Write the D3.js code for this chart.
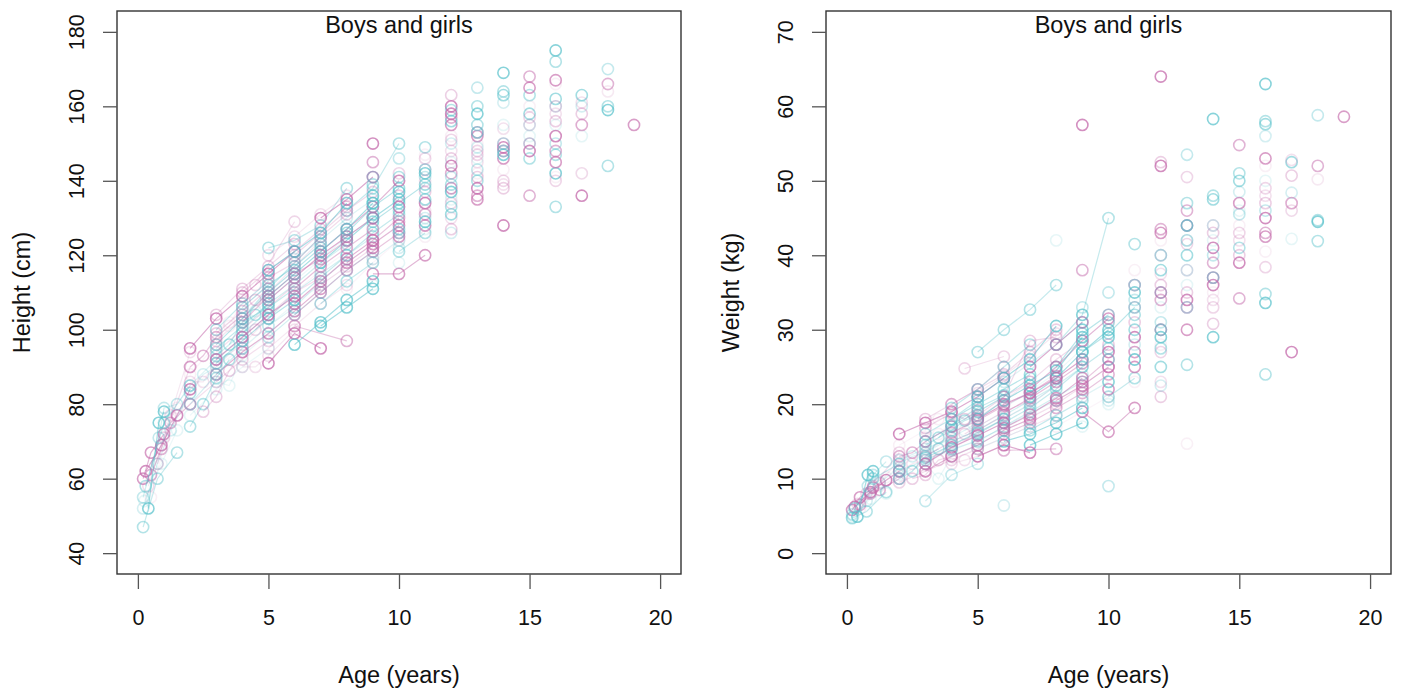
<!doctype html>
<html lang="en">
    <head>
        <meta charset="UTF-8" />
        <title>Boys and girls</title>
        <script src="https://d3js.org/d3.v7.min.js"></script>
        <style>
            body {
                margin: 0;
                background: #fff;
            }
            svg {
                display: block;
                font-family: "Liberation Sans", Arial, sans-serif;
            }
            .tick line {
                stroke: #555;
            }
        </style>
    </head>
    <body>
        <svg id="chart" width="1407" height="690"></svg>
        <script>
            // each visit: [age (years), height (cm), weight (kg)]
            // infants followed over the first two years
            const girlsInfant = [
                [[0.3, 62, 6.2], [0.9, 69, 8.2], [1.5, 77, 9.8], [2, 84, 11]],
                [[0.5, 61, 6.5], [0.9, 68, 8], [1.25, 75, 8.5], [2, 80, 10]],
                [[0.2, 60, 5.8], [0.5, 67, 7.5], [1, 72, 8.8]],
                [[0.5, 55, 6], [1.25, 76, 9], [1.5, 79, 10.2]],
                [[0.75, 64, 8], [1, 71, 9], [2, 90, 13.5]],
                [[0.4, 58, 6.6], [1.25, 77, 9.4], [2, 94, 12.6]],
            ];
            const boysInfant = [
                [[0.2, 52, 4.8], [0.75, 64, 7], [1.25, 73, 9.5], [2, 83, 11.5]],
                [[0.25, 54, 5], [0.9, 64, 7.3], [1.5, 73, 8]],
                [[0.2, 55, 5.2], [0.8, 71, 9], [1, 79, 10.5], [1.5, 80, 12.3]],
                [[0.2, 47, 4.7], [0.75, 60, 5.6], [1.5, 67, 8.2]],
                [[0.4, 52, 4.9], [0.8, 75, 10.5], [1, 78, 11]],
                [[0.3, 58, 6], [1, 75, 10], [2, 85, 12]],
            ];
            // children seen at repeated visits
            const girlsChild = [
                [[3, 104, 18], [4, 111, 20], [5, 117, 22], [6, 123, 25]],
                [[2, 95, 16], [3, 103, 17.5], [4, 109, 19], [5, 115, 21], [6, 121, 23.5]],
                [[2, 90, 13], [2.5, 93, 13.5], [3, 98, 15], [4, 104, 17]],
                [[3, 88, 11], [4, 94, 13], [5, 99, 14.5], [6, 105, 16.5], [7, 111, 18]],
                [[4, 97, 14], [5, 103, 16], [6, 110, 18], [7, 116, 20], [8, 121, 22.5]],
                [[4.5, 112, 24.8], [6, 129, 26.4]],
                [[5, 95, 14], [6, 101, 15.5], [7, 107, 17], [8, 112, 18.5]],
                [[6, 120, 21], [7, 126, 23], [8, 132, 26], [9, 137, 28.5]],
                [[5, 91, 13], [6, 99, 14.5], [7, 95, 13.5]],
                [[6, 101, 13.8], [8, 97, 14]],
                [[9, 115, 19], [10, 115, 16.3], [11, 120, 19.5]],
                [[3, 100, 15.5], [3.5, 102, 16], [4, 106, 17.5], [5, 112, 19.5]],
                [[2, 80, 9.5], [3, 86, 11], [4, 92, 12.5], [5, 97, 14]],
                [[2, 86, 11], [2.5, 86, 12], [3, 91, 12.5], [4, 96, 14.5], [5, 103, 16]],
                [[4, 110, 20], [5, 116, 22], [6, 121, 24], [7, 127, 27], [8, 133, 30]],
                [[5, 108, 18], [6, 114, 20], [7, 120, 21.5], [8, 125, 23.5], [9, 130, 26]],
                [[6, 104, 16], [7, 110, 17.5], [8, 116, 19.5], [9, 121, 21.5], [10, 126, 24]],
                [[7, 121, 22], [8, 127, 25], [9, 133, 28.5], [10, 140, 31.5]],
                [[8, 111, 17], [9, 118, 19], [10, 124, 21]],
                [[3, 94, 13], [4, 100, 15], [5, 106, 16.5], [6, 112, 18.5]],
                [[4, 90, 12], [4.5, 90, 12.5], [5, 93, 13], [6, 100, 14.5]],
                [[2.5, 78, 10], [3, 82, 10.5], [3.5, 89, 12.5], [4, 94, 13]],
                [[7, 130, 25], [8, 135, 28], [9, 141, 31]],
                [[9, 124, 23], [10, 130, 26]],
                [[8, 118, 20.5], [9, 123, 22.5], [10, 128, 25]],
                [[2, 88, 14.5], [3, 96, 16.5], [3.5, 101, 18], [4, 108, 18.5]],
                [[4.5, 100, 16], [5, 104, 17], [6, 110, 19], [7, 114, 20.5]],
                [[3, 97, 13.5], [4, 103, 16], [5, 110, 18.2], [6, 117, 20.5], [7, 124, 23]],
                [[5, 114, 18.5], [6, 118, 21], [7, 125, 28.5], [8, 131, 29]],
                [[3, 92, 12], [4, 98, 14.2], [5, 104, 15.8], [6, 109, 17.5]],
                [[4, 102, 16.2], [5, 109, 17.8], [6, 115, 19.8], [7, 119, 21.5], [8, 124, 23.8]],
                [[6, 107, 16.8], [7, 113, 18.6], [8, 119, 20.8], [9, 124, 23.5]],
                [[2, 84, 11.8], [3, 90, 13.2], [4, 95, 14.8]],
                [[7, 112, 18.2], [8, 117, 20], [9, 122, 22.4]],
                [[5, 120, 21.5], [6, 125, 23.8], [7, 131, 26.5], [8, 136, 29.5]],
                [[3, 99, 16.8], [4, 105, 18.8], [4.5, 108, 18], [5, 111, 19.2]],
                [[6, 111, 18.8], [7, 117, 20.8], [8, 122, 23], [9, 127, 25.5]],
            ];
            const boysChild = [
                [[3, 96, 15], [4, 103, 17], [5, 110, 19], [6, 116, 21], [7, 122, 23.5]],
                [[2, 85, 12.5], [3, 92, 14], [4, 98, 15.5], [5, 104, 17.5]],
                [[3, 86, 12], [3.5, 85, 10], [4, 93, 13], [5, 99, 14.5], [6, 105, 16.5]],
                [[4, 100, 15], [5, 107, 16.5], [6, 112, 18.5], [7, 118, 20.5], [8, 123, 22.5]],
                [[5, 122, 27], [6, 124, 30], [7, 128, 32.7], [8, 138, 36]],
                [[7, 101, 14.5], [8, 106, 16], [9, 111, 17.5]],
                [[8, 132, 28], [9, 138, 32], [10, 150, 45]],
                [[4, 106, 18], [5, 112, 20], [6, 117, 22], [7, 123, 24]],
                [[2, 83, 12], [2.5, 88, 13], [3, 90, 13.5], [4, 97, 15.5]],
                [[2, 77, 10.5], [3, 84, 12], [4, 90, 14], [5, 95, 15]],
                [[5, 98, 15], [6, 104, 17], [7, 110, 19], [8, 116, 21], [9, 121, 23]],
                [[6, 108, 17.5], [7, 114, 19.5], [8, 120, 22], [9, 126, 25], [10, 131, 27.5]],
                [[7, 118, 21], [8, 124, 23.5], [9, 130, 27], [10, 135, 30]],
                [[3, 100, 16], [4, 107, 18], [5, 113, 20.5]],
                [[8, 126, 25], [9, 133, 29.5], [10, 138, 32]],
                [[9, 119, 21], [10, 124, 23]],
                [[4.5, 105, 16.5], [5, 108, 17], [6, 114, 19]],
                [[5, 103, 16], [6, 110, 18], [7, 115, 20], [8, 120, 22.5], [9, 125, 25]],
                [[2, 74, 10], [2.5, 80, 11], [3, 87, 13], [3.5, 92, 14]],
                [[6, 96, 15], [7, 102, 16], [8, 108, 17.5], [9, 113, 19.5]],
                [[10, 121, 21], [11, 126, 23.5]],
                [[9, 129, 27], [10, 134, 29.5], [11, 139, 33]],
                [[6, 119, 23], [7, 124, 25.5], [8, 130, 28], [9, 135, 31]],
                [[5, 101, 14], [6, 107, 15.5], [7, 112, 17]],
                [[3, 93, 7], [4, 99, 10.5], [5, 105, 12]],
                [[4, 103, 19.5], [5, 111, 22], [6, 118, 25], [7, 125, 28]],
                [[5, 109, 18], [6, 115, 20.5], [7, 121, 22.5], [8, 127, 24.5], [9, 134, 29]],
                [[3, 95, 14.5], [4, 101, 16.5], [4.5, 104, 17.8], [5, 107, 18.5]],
                [[3, 91, 12.8], [4, 97, 14.5], [5, 103, 16.2], [6, 108, 18]],
                [[4, 95, 13.8], [5, 101, 15.2], [6, 106, 16.8], [7, 113, 18.8], [8, 119, 20.5]],
                [[6, 113, 19.5], [7, 119, 21.8], [8, 125, 24.2], [9, 130, 27.5]],
                [[2, 80, 11], [3, 88, 12.5], [4, 95, 14]],
                [[7, 107, 16.5], [8, 113, 18.5], [9, 118, 20.5]],
                [[5, 116, 21], [6, 121, 23.5], [7, 126, 26], [8, 134, 30.5]],
                [[3.5, 96, 15.5], [4, 102, 17.2], [5, 106, 19.5], [6, 111, 21.2]],
            ];
            // single visits of older children
            const girlsOlder = [
                [9, 150, 57.5], [9, 145, 38], [9, 122, 22], [9, 119, 21],
                [10, 142, 32], [10, 140, 31], [10, 136, 28], [10, 133, 27], [10, 129, 25], [10, 125, 22],
                [11, 147, 38], [11, 143, 36], [11, 140, 33], [11, 137, 31], [11, 134, 29],
                [11, 131, 27], [11, 128, 25], [11, 125, 23], [11, 146, 36], [11, 132, 27],
                [12, 163, 52.5], [12, 160, 52], [12, 157, 43.5], [12, 155, 43], [12, 152, 42],
                [12, 151, 40], [12, 148, 37.5], [12, 146, 36], [12, 144, 35], [12, 142, 34],
                [12, 138, 30], [12, 136, 28], [12, 134, 27], [12, 130, 23], [12, 127, 21], [12, 158, 64],
                [13, 153, 46], [13, 152, 44], [13, 150, 42], [13, 148, 41.5], [13, 145, 38],
                [13, 141, 35], [13, 138, 34], [13, 136, 33], [13, 135, 30], [13, 142, 14.7], [13, 147, 50.5],
                [14, 154, 44], [14, 150, 43], [14, 149, 41], [14, 148, 39], [14, 146, 37],
                [14, 143, 35], [14, 140, 33], [14, 139, 34], [14, 138, 30.8], [14, 128, 36],
                [15, 168, 54.8], [15, 165, 47], [15, 160, 44], [15, 157, 43], [15, 155, 42],
                [15, 150, 40], [15, 148, 39], [15, 136, 34.2],
                [16, 167, 53], [16, 166, 52], [16, 160, 49], [16, 158, 48], [16, 156, 47],
                [16, 152, 45], [16, 148, 43], [16, 145, 42.5], [16, 141, 40.5], [16, 140, 38.4],
                [17, 161, 52.8], [17, 158, 50.7], [17, 155, 47], [17, 136, 27], [17, 142, 46],
                [18, 166, 52], [18, 164, 50.2],
                [19, 155, 58.6],
            ];
            const boysOlder = [
                [6, 106, 6.4], [8, 128, 42],
                [9, 141, 33], [9, 139, 32], [9, 136, 30], [9, 134, 28], [9, 131, 26], [9, 128, 24], [9, 112, 17],
                [10, 146, 35], [10, 141, 31], [10, 137, 29], [10, 132, 26], [10, 127, 23],
                [10, 122, 20.5], [10, 118, 20], [10, 126, 9],
                [11, 149, 41.5], [11, 142, 35], [11, 138, 32], [11, 135, 30], [11, 130, 28], [11, 127, 26],
                [11, 141, 34], [11, 143, 36], [11, 129, 26],
                [12, 159, 40], [12, 156, 38], [12, 150, 35], [12, 145, 33], [12, 141, 31],
                [12, 139, 30], [12, 137, 29], [12, 133, 27.5], [12, 131, 25], [12, 126, 22.5], [12, 135, 30],
                [13, 165, 53.5], [13, 160, 47], [13, 158, 44], [13, 155, 42], [13, 153, 40],
                [13, 149, 38], [13, 146, 36], [13, 143, 33], [13, 140, 25.3],
                [14, 169, 58.3], [14, 164, 48], [14, 163, 47.5], [14, 161, 44], [14, 155, 42],
                [14, 150, 40], [14, 148, 37], [14, 147, 29],
                [15, 163, 51], [15, 158, 50], [15, 155, 48.5], [15, 152, 46], [15, 150, 45.5], [15, 146, 41],
                [16, 175, 63], [16, 172, 58], [16, 162, 57.6], [16, 160, 56], [16, 155, 50],
                [16, 150, 46], [16, 147, 34.8], [16, 142, 33.6], [16, 133, 24],
                [17, 163, 52.5], [17, 160, 48.4], [17, 152, 42.2],
                [18, 170, 58.8], [18, 160, 44.7], [18, 159, 44.5], [18, 144, 41.9],
            ];

            const ageTicks = [0, 5, 10, 15, 20];
            const heightTicks = [40, 60, 80, 100, 120, 140, 160, 180];
            const weightTicks = [0, 10, 20, 30, 40, 50, 60, 70];

            // colours and per-child transparency
            const sexColor = { girl: "#c46aab", boy: "#56c1ca" };
            const alphaCycle = [0.75, 0.25, 0.5, 0.15, 0.65, 0.35, 0.1, 0.45, 0.28, 0.7, 0.2, 0.45, 0.32, 0.55];

            // interleave girls and boys so neither colour sits on top
            function interleave(g, b) {
                const out = [];
                const n = Math.max(g.length, b.length);
                for (let i = 0; i < n; i++) {
                    if (i < g.length) out.push({ sex: "girl", visits: g[i] });
                    if (i < b.length) out.push({ sex: "boy", visits: b[i] });
                }
                return out;
            }
            const children = [
                ...interleave(girlsInfant, boysInfant),
                ...interleave(girlsChild, boysChild),
                ...interleave(
                    girlsOlder.map((v) => [v]),
                    boysOlder.map((v) => [v]),
                ),
            ];
            children.forEach((c, i) => (c.alpha = alphaCycle[i % alphaCycle.length]));

            const svg = d3.select("#chart");
            const plotTop = 11,
                plotBottom = 574;

            const panels = [
                {
                    left: 117,
                    right: 681,
                    col: 1,
                    yDomain: [34.4, 185.6],
                    ticks: heightTicks,
                    ylab: "Height (cm)",
                },
                {
                    left: 826,
                    right: 1391,
                    col: 2,
                    yDomain: [-2.8, 72.8],
                    ticks: weightTicks,
                    ylab: "Weight (kg)",
                },
            ];

            panels.forEach((p) => {
                const x = d3.scaleLinear().domain([-0.8, 20.8]).range([p.left, p.right]);
                const y = d3.scaleLinear().domain(p.yDomain).range([plotBottom, plotTop]);
                const g = svg.append("g");

                const line = d3
                    .line()
                    .x((d) => x(d[0]))
                    .y((d) => y(d[p.col]));

                const kids = g
                    .append("g")
                    .selectAll("g")
                    .data(children)
                    .join("g")
                    .attr("stroke", (d) => sexColor[d.sex])
                    .attr("fill", "none");

                kids.filter((d) => d.visits.length > 1)
                    .append("path")
                    .attr("d", (d) => line(d.visits))
                    .attr("stroke-opacity", (d) => d.alpha * 0.75)
                    .attr("stroke-width", 1.2);

                kids.selectAll("circle")
                    .data((d) => d.visits.map((v) => ({ v, alpha: d.alpha })))
                    .join("circle")
                    .attr("cx", (d) => x(d.v[0]))
                    .attr("cy", (d) => y(d.v[p.col]))
                    .attr("r", 5.6)
                    .attr("stroke-opacity", (d) => d.alpha)
                    .attr("stroke-width", 1.6);

                // box
                g.append("rect")
                    .attr("x", p.left)
                    .attr("y", plotTop)
                    .attr("width", p.right - p.left)
                    .attr("height", plotBottom - plotTop)
                    .attr("fill", "none")
                    .attr("stroke", "#333")
                    .attr("stroke-width", 1.4);

                const xAxis = g
                    .append("g")
                    .attr("transform", `translate(0,${plotBottom})`)
                    .call(d3.axisBottom(x).tickValues(ageTicks).tickSize(15).tickFormat(d3.format("d")));
                xAxis.select(".domain").remove();
                xAxis.selectAll(".tick line").attr("stroke-width", 1.3);
                xAxis.selectAll("text")
                    .attr("y", 43)
                    .attr("dy", "0.35em")
                    .attr("fill", "#111")
                    .style("font-size", "21.5px");

                const yAxis = g
                    .append("g")
                    .attr("transform", `translate(${p.left},0)`)
                    .call(d3.axisLeft(y).tickValues(p.ticks).tickSize(14).tickFormat(d3.format("d")));
                yAxis.select(".domain").remove();
                yAxis.selectAll(".tick line").attr("stroke-width", 1.3);
                yAxis.selectAll("text")
                    .attr("x", 0)
                    .attr("y", -41)
                    .attr("dy", "0.35em")
                    .attr("transform", "rotate(-90)")
                    .attr("text-anchor", "middle")
                    .attr("fill", "#111")
                    .style("font-size", "21.5px");

                const cx = (p.left + p.right) / 2;
                g.append("text")
                    .attr("x", cx)
                    .attr("y", 25)
                    .attr("dy", "0.35em")
                    .attr("text-anchor", "middle")
                    .attr("fill", "#111")
                    .style("font-size", "23.5px")
                    .text("Boys and girls");

                g.append("text")
                    .attr("x", cx)
                    .attr("y", 675)
                    .attr("dy", "0.35em")
                    .attr("text-anchor", "middle")
                    .attr("fill", "#111")
                    .style("font-size", "23.5px")
                    .text("Age (years)");

                g.append("text")
                    .attr("transform", `translate(${p.left - 95},${(plotTop + plotBottom) / 2}) rotate(-90)`)
                    .attr("dy", "0.35em")
                    .attr("text-anchor", "middle")
                    .attr("fill", "#111")
                    .style("font-size", "23.5px")
                    .text(p.ylab);
            });
        </script>
    </body>
</html>
